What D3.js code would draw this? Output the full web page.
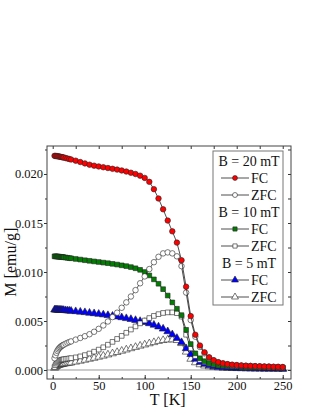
<!DOCTYPE html>
<html>
<head>
<meta charset="utf-8">
<script src="https://cdn.jsdelivr.net/npm/d3@7"></script>
<style>
  body { margin: 0; background: #fff; }
  svg text { font-family: "Liberation Serif", "Times New Roman", serif; fill: #111; }
</style>
</head>
<body>
<svg id="chart" width="316" height="409"></svg>
<script>
// temperature grid [K]
temps = [2,3,4,5,6,7,8,9,10,11,12,14,16,18,20,
  25,30,35,40,45,50,55,60,65,70,75,80,85,90,95,100,105,110,115,120,125,130,135,140,145,
  150,155,160,165,170,175,180,185,190,195,200,205,210,215,220,225,230,235,240,245,250];

// magnetisation [emu/g]
fc20 = [.02185,.02184,.02183,.02182,.02180,.02178,.02176,.02174,.02172,.02170,.02168,.02163,.02158,.02153,.02148,
  .02136,.02122,.02108,.02095,.02085,.02077,.02069,.02061,.02053,.02045,.02036,.02025,.02013,.02000,.01983,.01960,.01920,.01845,.01750,.01640,.01525,.01415,.01300,.01120,.00850,
  .00550,.00360,.00250,.00180,.00130,.00100,.00080,.00068,.00060,.00054,.00050,.00047,.00044,.00042,.00040,.00038,.00036,.00035,.00033,.00032,.00030];
zfc20 = [.00120,.00150,.00175,.00195,.00210,.00222,.00232,.00240,.00247,.00253,.00258,.00268,.00277,.00285,.00292,
  .00310,.00327,.00345,.00365,.00390,.00420,.00455,.00495,.00540,.00585,.00635,.00690,.00750,.00815,.00885,.00955,.01030,.01100,.01155,.01190,.01200,.01190,.01160,.01060,.00790,
  .00510,.00340,.00235,.00170,.00125,.00097,.00078,.00066,.00058,.00052,.00048,.00045,.00043,.00041,.00039,.00037,.00035,.00034,.00032,.00031,.00029];
fc10 = [.01160,.01160,.01159,.01158,.01157,.01156,.01155,.01154,.01153,.01152,.01150,.01148,.01145,.01142,.01140,
  .01133,.01127,.01120,.01114,.01108,.01102,.01096,.01090,.01083,.01076,.01068,.01060,.01050,.01038,.01022,.01000,.00965,.00925,.00880,.00825,.00760,.00690,.00625,.00560,.00410,
  .00265,.00170,.00120,.00090,.00070,.00058,.00050,.00045,.00041,.00038,.00036,.00034,.00032,.00030,.00029,.00028,.00027,.00026,.00025,.00024,.00023];
zfc10 = [.00030,.00050,.00065,.00077,.00086,.00093,.00098,.00102,.00105,.00107,.00109,.00112,.00115,.00118,.00121,
  .00129,.00139,.00152,.00168,.00187,.00208,.00232,.00258,.00287,.00317,.00348,.00380,.00413,.00445,.00476,.00505,.00530,.00552,.00570,.00582,.00588,.00588,.00580,.00545,.00360,
  .00220,.00142,.00102,.00080,.00064,.00054,.00047,.00043,.00039,.00036,.00034,.00032,.00030,.00029,.00028,.00027,.00026,.00025,.00024,.00023,.00022];
fc5 = [.00615,.00615,.00614,.00614,.00613,.00613,.00612,.00612,.00611,.00610,.00610,.00608,.00606,.00604,.00602,
  .00598,.00593,.00588,.00582,.00577,.00571,.00565,.00558,.00551,.00544,.00536,.00527,.00518,.00508,.00498,.00487,.00475,.00460,.00442,.00420,.00393,.00362,.00325,.00282,.00220,
  .00160,.00112,.00080,.00060,.00046,.00036,.00030,.00026,.00023,.00021,.00019,.00018,.00017,.00016,.00015,.00014,.00013,.00013,.00012,.00012,.00011];
zfc5 = [.00020,.00030,.00038,.00044,.00049,.00052,.00055,.00057,.00059,.00061,.00063,.00066,.00069,.00072,.00075,
  .00083,.00092,.00102,.00112,.00122,.00133,.00144,.00156,.00168,.00181,.00194,.00207,.00220,.00233,.00246,.00258,.00270,.00282,.00294,.00303,.00309,.00310,.00303,.00272,.00185,
  .00112,.00076,.00056,.00043,.00035,.00029,.00025,.00022,.00020,.00018,.00017,.00016,.00015,.00014,.00013,.00013,.00012,.00012,.00011,.00011,.00010];

xTicks = [0, 50, 100, 150, 200, 250];
yTicks = [0, 0.005, 0.010, 0.015, 0.020];
legendHeads = ["B = 20 mT", "B = 10 mT", "B = 5 mT"];
legendNames = ["FC", "ZFC"];

// drawing order: 5 mT first, 20 mT FC on top
series = [
  {values: zfc5,  shape: d3.symbolTriangle, fill: "#fff",    size: 26},
  {values: fc5,   shape: d3.symbolTriangle, fill: "#0000ff", size: 26},
  {values: zfc10, shape: d3.symbolSquare,   fill: "#fff",    size: 22},
  {values: fc10,  shape: d3.symbolSquare,   fill: "#008000", size: 22},
  {values: zfc20, shape: d3.symbolCircle,   fill: "#fff",    size: 24},
  {values: fc20,  shape: d3.symbolCircle,   fill: "#ff0000", size: 24}
];

margin = {top: 146, right: 25, bottom: 30, left: 47};
W = 316; H = 409;

svg = d3.select("#chart");

x = d3.scaleLinear().domain([-6.2, 259]).range([margin.left, W - margin.right]);
y = d3.scaleLinear().domain([-0.000918, 0.022857]).range([H - margin.bottom, margin.top]);

// zero line
svg.append("line")
  .attr("x1", x.range()[0]).attr("x2", x.range()[1])
  .attr("y1", y(0)).attr("y2", y(0))
  .attr("stroke", "#999").attr("stroke-width", 1);

line = d3.line()
  .x(function(d, i) { return x(temps[i]); })
  .y(function(d) { return y(d); });

series.forEach(function(s) {
  svg.append("path")
    .datum(s.values)
    .attr("d", line)
    .attr("fill", "none")
    .attr("stroke", "#222")
    .attr("stroke-width", 0.8);

  var sym = d3.symbol().type(s.shape).size(s.size);
  svg.append("g").selectAll("path")
    .data(s.values)
    .enter().append("path")
    .attr("transform", function(d, i) { return "translate(" + x(temps[i]) + "," + y(d) + ")"; })
    .attr("d", sym)
    .attr("fill", s.fill)
    .attr("stroke", "#222")
    .attr("stroke-width", 0.6);
});

// axes: left ticks out, the rest in
function styleAxis(g) {
  g.select(".domain").remove();
  g.selectAll("line").attr("stroke", "#333");
  g.selectAll("text").style("font-size", "12.5px").attr("fill", "#111");
}
minorX = d3.range(0, 251, 25);
minorY = d3.range(0, 0.0226, 0.0025);

svg.append("g")
  .attr("transform", "translate(0," + (H - margin.bottom) + ")")
  .call(d3.axisBottom(x).tickValues(minorX).tickSize(-2).tickFormat(""))
  .call(styleAxis);
svg.append("g")
  .attr("transform", "translate(0," + (H - margin.bottom) + ")")
  .call(d3.axisBottom(x).tickValues(xTicks).tickSize(-4).tickPadding(2).tickFormat(d3.format("d")))
  .call(styleAxis);
svg.append("g")
  .attr("transform", "translate(0," + margin.top + ")")
  .call(d3.axisTop(x).tickValues(minorX).tickSize(-3).tickFormat(""))
  .call(styleAxis);

svg.append("g")
  .attr("transform", "translate(" + margin.left + ",0)")
  .call(d3.axisLeft(y).tickValues(minorY).tickSize(2).tickFormat(""))
  .call(styleAxis);
svg.append("g")
  .attr("transform", "translate(" + margin.left + ",0)")
  .call(d3.axisLeft(y).tickValues(yTicks).tickSize(3).tickPadding(1).tickFormat(d3.format(".3f")))
  .call(styleAxis);
svg.append("g")
  .attr("transform", "translate(" + (W - margin.right) + ",0)")
  .call(d3.axisRight(y).tickValues(minorY).tickSize(-3).tickFormat(""))
  .call(styleAxis);

// frame
svg.append("rect")
  .attr("x", margin.left).attr("y", margin.top)
  .attr("width", W - margin.left - margin.right)
  .attr("height", H - margin.top - margin.bottom)
  .attr("fill", "none").attr("stroke", "#444").attr("stroke-width", 1);

// axis titles
svg.append("text")
  .attr("x", x(125)).attr("y", 405)
  .attr("text-anchor", "middle")
  .style("font-size", "16px")
  .text("T [K]");
svg.append("text")
  .attr("transform", "translate(16," + y(0.011) + ") rotate(-90)")
  .attr("text-anchor", "middle")
  .style("font-size", "16px")
  .text("M [emu/g]");

// legend
legend = svg.append("g").attr("transform", "translate(213,151)");
legend.append("rect")
  .attr("width", 70).attr("height", 154)
  .attr("fill", "#fff").attr("stroke", "#777").attr("stroke-width", 1);

rowH = 17;
legendHeads.forEach(function(head, k) {
  var base = 10 + k * 3 * rowH;
  legend.append("text")
    .attr("x", 36).attr("y", base + 5)
    .attr("text-anchor", "middle")
    .style("font-size", "14px")
    .text(head);
  legendNames.forEach(function(name, j) {
    var s = series[(2 - k) * 2 + (1 - j)];
    var cy = base + (j + 1) * rowH;
    legend.append("line")
      .attr("x1", 8).attr("x2", 36).attr("y1", cy).attr("y2", cy)
      .attr("stroke", "#222").attr("stroke-width", 0.8);
    legend.append("path")
      .attr("transform", "translate(22," + cy + ")")
      .attr("d", d3.symbol().type(s.shape).size(s.size * 0.8))
      .attr("fill", s.fill).attr("stroke", "#222").attr("stroke-width", 0.6);
    legend.append("text")
      .attr("x", 38).attr("y", cy + 5)
      .style("font-size", "14px")
      .text(name);
  });
});
</script>
</body>
</html>
